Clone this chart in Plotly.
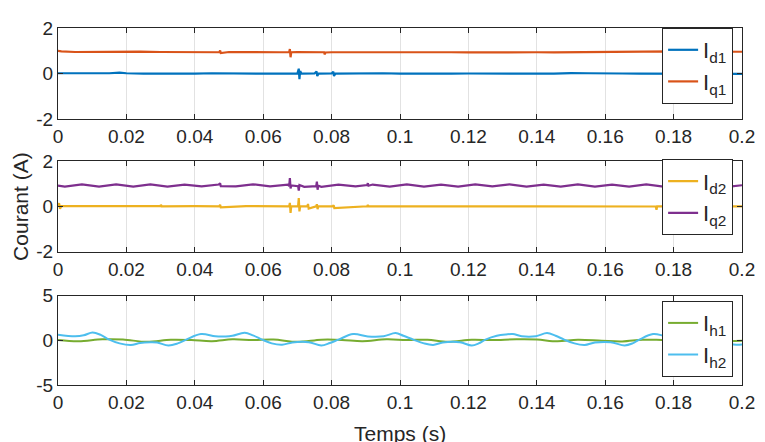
import plotly.graph_objects as go

# ---------------- data ----------------
x_ticks = [0, 0.02, 0.04, 0.06, 0.08, 0.1, 0.12, 0.14, 0.16, 0.18, 0.2]
x_tick_labels = ["0", "0.02", "0.04", "0.06", "0.08", "0.1", "0.12", "0.14", "0.16", "0.18", "0.2"]
y_ticks_12 = [-2, 0, 2]
y_tick_labels_12 = ["-2", "0", "2"]
y_ticks_3 = [-5, 0, 5]
y_tick_labels_3 = ["-5", "0", "5"]

# Panel 1
t_d1 = [0.000, 0.005, 0.010, 0.015, 0.018, 0.020, 0.025, 0.030, 0.035, 0.040, 0.045, 0.050,
        0.055, 0.060, 0.065, 0.0700, 0.0704, 0.0706, 0.0708, 0.0712, 0.075, 0.0756, 0.0758,
        0.0762, 0.080, 0.0805, 0.0807, 0.0811, 0.085, 0.090, 0.095, 0.100, 0.105, 0.110,
        0.115, 0.120, 0.125, 0.130, 0.135, 0.140, 0.145, 0.150, 0.155, 0.160, 0.165, 0.170,
        0.175, 0.180, 0.185, 0.190, 0.195, 0.200]
v_d1 = [0.02, 0.01, 0.00, 0.02, 0.05, 0.02, 0.00, -0.01, 0.01, 0.00, 0.02, 0.01,
        0.00, 0.02, 0.00, 0.01, 0.22, -0.24, 0.12, 0.00, 0.01, 0.10, -0.10,
        0.00, 0.01, 0.09, -0.10, 0.00, 0.01, 0.00, 0.02, 0.00, -0.01, 0.01,
        0.00, 0.01, 0.00, -0.01, 0.01, 0.00, 0.00, 0.03, 0.02, 0.00, 0.01, 0.00,
        0.00, 0.01, 0.00, 0.00, 0.01, -0.01]

t_q1 = [0.000, 0.001, 0.005, 0.010, 0.015, 0.020, 0.024, 0.030, 0.035, 0.040, 0.045, 0.0472,
        0.0474, 0.0476, 0.050, 0.055, 0.060, 0.065, 0.0676, 0.0678, 0.0680, 0.0682, 0.070,
        0.075, 0.0778, 0.0780, 0.0782, 0.080, 0.085, 0.090, 0.095, 0.100, 0.105, 0.110,
        0.115, 0.120, 0.125, 0.130, 0.135, 0.140, 0.145, 0.150, 0.155, 0.160, 0.165, 0.170,
        0.175, 0.178, 0.180, 0.185, 0.190, 0.195, 0.200]
v_q1 = [1.00, 0.98, 0.95, 0.96, 0.95, 0.95, 0.97, 0.95, 0.95, 0.95, 0.95, 0.94,
        1.02, 0.90, 0.95, 0.94, 0.95, 0.94, 0.95, 1.08, 0.72, 0.94, 0.95,
        0.94, 0.94, 0.84, 0.93, 0.94, 0.93, 0.95, 0.94, 0.94, 0.95, 0.93,
        0.94, 0.93, 0.94, 0.95, 0.96, 0.94, 0.93, 0.94, 0.95, 0.94, 0.96, 0.96,
        0.97, 1.00, 0.98, 0.97, 0.97, 0.97, 0.96]

# Panel 2
t_d2 = [0.000, 0.0003, 0.0006, 0.001, 0.010, 0.020, 0.0300, 0.0301, 0.0303, 0.040, 0.0472,
        0.0474, 0.0476, 0.055, 0.060, 0.0676, 0.0678, 0.0680, 0.0682, 0.0702, 0.0704, 0.0706,
        0.0708, 0.0729, 0.0731, 0.0733, 0.0755, 0.0757, 0.0759, 0.0761, 0.0804, 0.0806,
        0.0808, 0.0904, 0.0906, 0.0908, 0.100, 0.110, 0.120, 0.130, 0.140, 0.150, 0.160,
        0.170, 0.1748, 0.1750, 0.1752, 0.180, 0.190, 0.200]
v_d2 = [0.02, 0.15, -0.10, 0.02, 0.02, 0.01, 0.02, 0.08, 0.01, 0.02, 0.01,
        0.08, -0.04, 0.02, 0.01, 0.01, 0.16, -0.28, 0.01, 0.01, 0.37, -0.22,
        0.01, 0.01, 0.11, -0.09, 0.01, 0.10, -0.12, 0.01, 0.01, 0.06,
        -0.07, 0.01, 0.07, 0.01, 0.01, 0.00, 0.02, 0.01, 0.01, 0.00, 0.01,
        0.01, 0.00, -0.15, 0.01, 0.01, 0.01, 0.01]

t_q2 = [0.000, 0.002, 0.007, 0.012, 0.017, 0.022, 0.027, 0.032, 0.037, 0.042, 0.047,
        0.0474, 0.0476, 0.052, 0.057, 0.062, 0.0672, 0.0676, 0.0678, 0.0680, 0.0682,
        0.0702, 0.0704, 0.0706, 0.072, 0.0755, 0.0757, 0.0759, 0.0761, 0.077, 0.082,
        0.087, 0.0904, 0.0906, 0.0908, 0.092, 0.097, 0.102, 0.107, 0.112, 0.117, 0.122,
        0.127, 0.132, 0.137, 0.142, 0.147, 0.152, 0.157, 0.162, 0.167, 0.172, 0.177,
        0.182, 0.187, 0.192, 0.197, 0.200]
v_q2 = [0.92, 0.88, 0.98, 0.88, 0.98, 0.88, 0.98, 0.88, 0.97, 0.89, 0.97,
        1.03, 0.90, 0.89, 0.98, 0.89, 0.97, 0.90, 1.26, 0.80, 0.93,
        0.90, 0.70, 0.95, 0.87, 0.90, 1.10, 0.74, 0.92, 0.87, 0.97,
        0.89, 0.95, 1.03, 0.92, 0.97, 0.88, 0.98, 0.88, 0.97, 0.88, 0.98,
        0.89, 0.98, 0.88, 0.97, 0.88, 0.98, 0.88, 0.97, 0.88, 0.98, 0.88,
        0.97, 0.89, 0.98, 0.89, 0.94]

# Panel 3
t_h1 = [0.000, 0.006, 0.013, 0.019, 0.026, 0.033, 0.039, 0.045, 0.051, 0.057, 0.063,
        0.070, 0.077, 0.083, 0.089, 0.096, 0.102, 0.108, 0.114, 0.121, 0.127, 0.134,
        0.140, 0.146, 0.152, 0.159, 0.165, 0.171, 0.178, 0.184, 0.190, 0.196, 0.200]
v_h1 = [0.02, -0.12, 0.10, 0.08, -0.18, 0.05, 0.02, -0.10, 0.10, 0.03, 0.08,
        -0.18, 0.06, 0.04, -0.10, 0.10, 0.03, 0.06, -0.16, 0.05, 0.02, 0.10,
        0.08, -0.12, 0.06, -0.06, -0.14, 0.06, 0.03, 0.10, 0.02, -0.10, -0.05]

t_h2 = [0.000, 0.005, 0.0075, 0.0101, 0.0125, 0.015, 0.018, 0.0213, 0.024, 0.027, 0.029,
        0.0323, 0.035, 0.0375, 0.0418, 0.046, 0.049, 0.051, 0.0546, 0.057, 0.0597,
        0.0625, 0.0655, 0.0685, 0.0733, 0.077, 0.0795, 0.082, 0.0863, 0.0906, 0.0952,
        0.0987, 0.101, 0.1039, 0.107, 0.1097, 0.1125, 0.1175, 0.121, 0.123, 0.125,
        0.1283, 0.131, 0.133, 0.1356, 0.1397, 0.143, 0.1455, 0.148, 0.151, 0.154,
        0.157, 0.1616, 0.1657, 0.168, 0.170, 0.174, 0.178, 0.182, 0.1873, 0.190,
        0.1925, 0.1955, 0.1983, 0.200]
v_h2 = [0.62, 0.45, 0.55, 0.87, 0.60, 0.07, -0.35, -0.54, -0.30, -0.22, -0.25,
        -0.58, -0.35, 0.07, 0.69, 0.45, 0.43, 0.50, 0.83, 0.55, 0.07,
        -0.35, -0.50, -0.25, -0.22, -0.58, -0.30, 0.07, 0.69, 0.43, 0.45,
        0.80, 0.50, 0.07, -0.35, -0.52, -0.25, -0.22, -0.58, -0.35, 0.07,
        0.50, 0.65, 0.69, 0.45, 0.45, 0.80, 0.50, 0.07, -0.35, -0.52,
        -0.25, -0.22, -0.58, -0.35, 0.07, 0.69, 0.45, 0.50, 0.80, 0.50,
        0.07, -0.35, -0.50, -0.47]

series = [
    ("I<sub>d1</sub>", t_d1, v_d1, "#0072BD", 1),
    ("I<sub>q1</sub>", t_q1, v_q1, "#D95319", 1),
    ("I<sub>d2</sub>", t_d2, v_d2, "#EDB120", 2),
    ("I<sub>q2</sub>", t_q2, v_q2, "#7E2F8E", 2),
    ("I<sub>h1</sub>", t_h1, v_h1, "#77AC30", 3),
    ("I<sub>h2</sub>", t_h2, v_h2, "#4DBEEE", 3),
]
for _, t, v, _, _ in series:
    assert len(t) == len(v)

# ---------------- figure ----------------
FONT = "Liberation Sans, Arial, Helvetica, sans-serif"
AX = "#262626"
GRID = "#e2e2e2"
TICK_SIZE = 19

fig = go.Figure()
for name, t, v, col, row in series:
    sfx = "" if row == 1 else str(row)
    shape = "spline" if row == 3 else "linear"
    fig.add_trace(go.Scatter(
        x=t, y=v, mode="lines", name=name,
        line=dict(color=col, width=2.2 if row < 3 else 2.0, shape=shape),
        xaxis="x" + sfx, yaxis="y" + sfx,
        legend="legend" + sfx,
    ))

# the page body has an 8px default margin, so the figure is 8px smaller
domains = {1: [0.7439, 1.0], 2: [0.3733, 0.6267], 3: [0.0, 0.2507]}
layout = dict(
    width=757, height=434,
    margin=dict(l=50, r=14, t=10, b=57),
    paper_bgcolor="white", plot_bgcolor="white",
    font=dict(family=FONT, size=TICK_SIZE, color=AX),
    showlegend=True,
)
for row in (1, 2, 3):
    sfx = "" if row == 1 else str(row)
    layout["xaxis" + sfx] = dict(
        domain=[0, 1], anchor="y" + sfx, range=[0, 0.2],
        tickvals=x_ticks, ticktext=x_tick_labels,
        showgrid=True, gridcolor=GRID, gridwidth=1,
        showline=True, linecolor=AX, linewidth=1, mirror="ticks",
        ticks="inside", ticklen=5, tickcolor=AX, zeroline=False,
        tickfont=dict(size=TICK_SIZE, color=AX),
    )
    yt = y_ticks_3 if row == 3 else y_ticks_12
    ytl = y_tick_labels_3 if row == 3 else y_tick_labels_12
    yr = [-5, 5] if row == 3 else [-2, 2]
    layout["yaxis" + sfx] = dict(
        domain=domains[row], anchor="x" + sfx, range=yr,
        tickvals=yt, ticktext=ytl,
        showgrid=False, showline=True, linecolor=AX, linewidth=1, mirror="ticks",
        ticks="inside", ticklen=5, tickcolor=AX, zeroline=False,
        tickfont=dict(size=TICK_SIZE, color=AX),
    )
    top = {1: 1.0, 2: 0.632, 3: 0.235}[row]
    layout["legend" + sfx] = dict(
        x=0.987, y=top, xanchor="right", yanchor="top",
        xref="paper", yref="paper",
        bgcolor="white", bordercolor=AX, borderwidth=1,
        font=dict(family=FONT, size=22, color=AX),
        itemwidth=30, tracegroupgap=0,
    )
fig.update_layout(**layout)

fig.add_annotation(text="Courant (A)", x=-0.055, y=0.5, xref="paper", yref="paper",
                   textangle=-90, showarrow=False, xanchor="center", yanchor="middle",
                   font=dict(family=FONT, size=21, color=AX))
fig.add_annotation(text="Temps (s)", x=0.5, y=-0.098, xref="paper", yref="paper",
                   showarrow=False, xanchor="center", yanchor="top",
                   font=dict(family=FONT, size=21, color=AX))

fig.write_html("out.html")
